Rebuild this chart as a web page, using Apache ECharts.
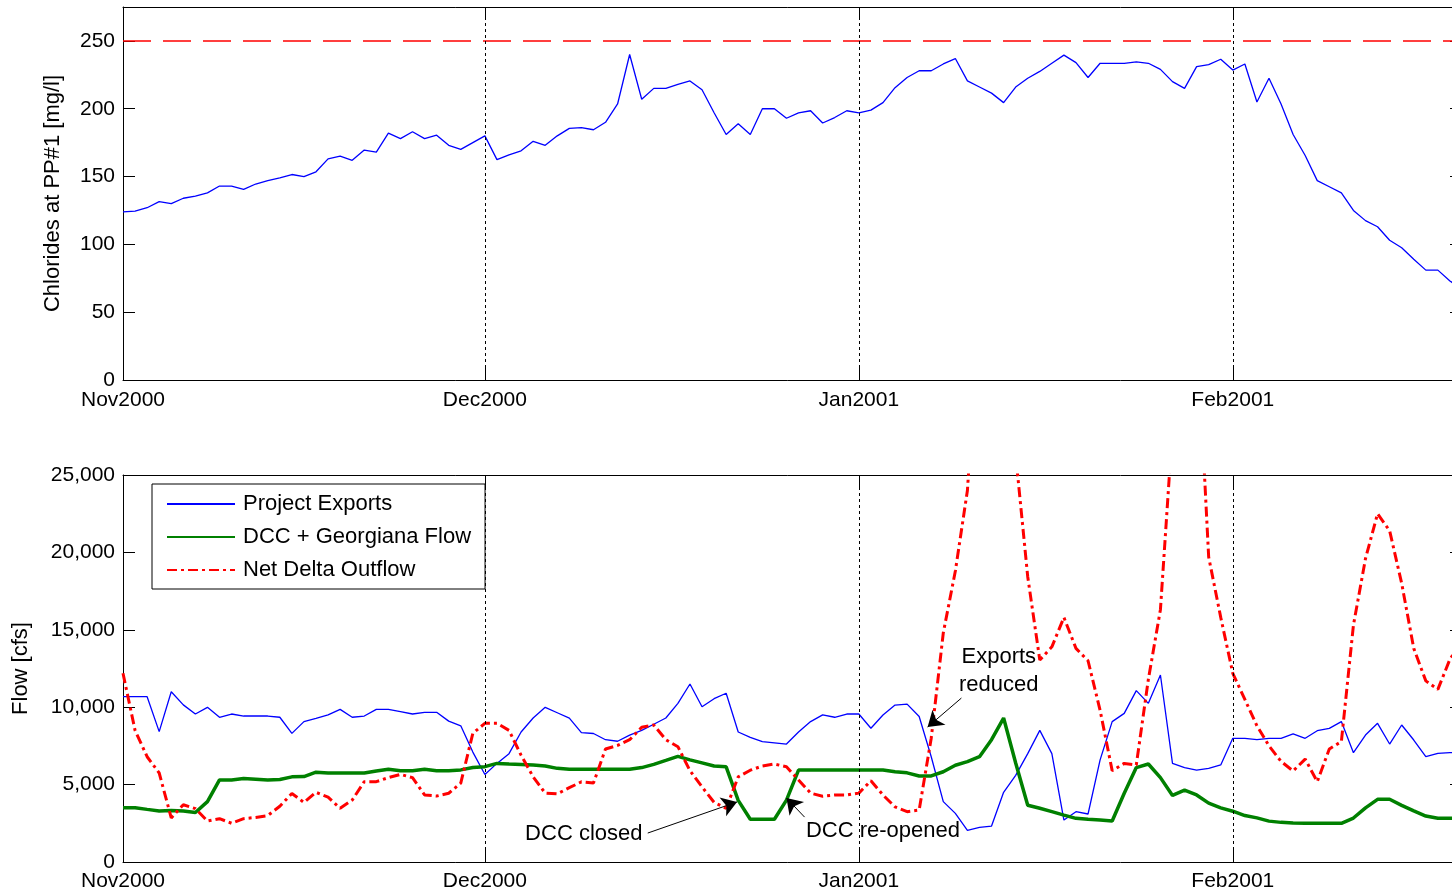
<!DOCTYPE html>
<html>
<head>
<meta charset="utf-8">
<script src="https://cdn.jsdelivr.net/npm/echarts@6/dist/echarts.min.js"></script>
<style>
html,body{margin:0;padding:0;background:#fff;overflow:hidden;}
#chart{width:1452px;height:893px;}
</style>
</head>
<body>
<div id="chart"></div>
<script>
// ---- Data (daily, day 0 = 1 Nov 2000) ----
const monthTickDays = [0, 30, 61, 92];
const monthLabels = ['Nov2000', 'Dec2000', 'Jan2001', 'Feb2001'];
const chlorideStandard = 250;

const chlorides = [
  124, 124.5, 127, 131.5, 130, 134, 135.5, 138, 143, 143,
  140.5, 144.5, 147, 149, 151.5, 150, 153.5, 163, 165, 162,
  169.5, 168, 182, 178, 183, 178, 180.5, 173, 170, 175,
  180, 162.5, 166, 169, 176, 173, 180, 185.5, 186, 184.5,
  190, 203.5, 240, 207, 215, 215, 218, 220.5, 214, 197,
  181, 189, 181, 200, 200, 193, 197, 198.5, 189.5, 193.5,
  198.5, 197, 199, 204.5, 215.5, 223, 228, 228, 233, 237,
  220.5, 216, 211.5, 204.5, 216, 222.5, 227.5, 233.5, 239.5, 234,
  223, 233.5, 233.5, 233.5, 234.5, 233.5, 229, 220, 215, 231,
  232.5, 236.5, 228.5, 233, 205, 222.5, 203.5, 181, 165.5, 147,
  142.5, 138, 125, 117.5, 113, 103, 97.5, 89, 81, 81, 73, 67
];

const projectExports = [
  10680, 10680, 10680, 8420, 11000, 10150, 9560, 9990, 9350, 9560,
  9430, 9430, 9430, 9350, 8310, 9070, 9280, 9500, 9860, 9350,
  9430, 9860, 9860, 9710, 9560, 9670, 9670, 9100, 8800, 7100,
  5650, 6370, 7000, 8400, 9300, 9990, 9640, 9290, 8355, 8300,
  7900, 7800, 8200, 8500, 8900, 9300, 10250, 11500, 10030, 10550,
  10900, 8400, 8050, 7770, 7700, 7620, 8400, 9070, 9500, 9350,
  9560, 9560, 8640, 9500, 10140, 10200, 9400, 6800, 3900, 3140,
  2050, 2240, 2320, 4500, 5600, 7000, 8500, 7000, 2710, 3250,
  3100, 6600, 9070, 9600, 11070, 10250, 12080, 6370, 6100, 5940,
  6050, 6270, 7990, 7990, 7900, 7990, 7990, 8270, 7990, 8480,
  8630, 9070, 7060, 8200, 8960, 7620, 8850, 7880, 6800, 7020, 7060, 7100
];

const dccGeorgianaFlow = [
  3510, 3510, 3400, 3300, 3330, 3300, 3200, 3900, 5300, 5300,
  5400, 5350, 5300, 5330, 5500, 5520, 5800, 5750, 5750, 5750,
  5750, 5880, 5990, 5900, 5900, 5990, 5900, 5900, 5950, 6100,
  6160, 6370, 6330, 6300, 6260, 6200, 6050, 5990, 5990, 5990,
  5990, 5990, 5990, 6100, 6310, 6560, 6820, 6600, 6400, 6200,
  6150, 3980, 2760, 2760, 2760, 4000, 5940, 5940, 5940, 5940,
  5940, 5940, 5940, 5940, 5830, 5760, 5560, 5560, 5830, 6250,
  6480, 6800, 7900, 9300, 6400, 3670, 3470, 3250, 3030, 2820,
  2760, 2710, 2650, 4440, 6100, 6330, 5450, 4300, 4640, 4330,
  3800, 3500, 3280, 3000, 2850, 2640, 2560, 2520, 2500, 2500,
  2500, 2500, 2840, 3500, 4050, 4050, 3660, 3300, 2970, 2830, 2820, 2820
];

const netDeltaOutflow = [
  12190, 8500, 6800, 5750, 2850, 3700, 3450, 2650, 2800, 2500,
  2800, 2880, 3000, 3600, 4430, 3850, 4500, 4190, 3470, 4000,
  5190, 5190, 5450, 5660, 5450, 4330, 4260, 4440, 5100, 8310,
  8960, 8960, 8500, 6900, 5500, 4450, 4400, 4800, 5180, 5100,
  7300, 7530, 7900, 8700, 8850, 7900, 7450, 5900, 4850, 3850,
  3470, 5500, 5930, 6200, 6330, 6150, 5300, 4450, 4250, 4330,
  4330, 4450, 5250, 4330, 3560, 3250, 3360, 8000, 14800, 18800,
  24000, 36000, 38000, 34000, 26300, 18430, 13050, 13900, 15800, 13800,
  13000, 9800, 5900, 6370, 6270, 11800, 16300, 28000, 33000, 35000,
  19700, 15800, 12190, 10500, 8800, 7500, 6500, 5880, 6650, 5190,
  7300, 7780, 15300, 19600, 22500, 21400, 18000, 13800, 11700, 11150, 13100, 14200
];

// annotation texts: [label, day, flow]
const annotationTexts = [
  ['DCC closed', 38.2, 1810],
  ['DCC re-opened', 63.0, 2000],
  ['Exports\nreduced', 72.6, 12370]
];
// annotation arrows: [fromDay, fromFlow, toDay, toFlow]
const annotationArrows = [
  [43.5, 1870, 50.9, 3880],
  [56.5, 2900, 55.0, 4130],
  [69.5, 10590, 66.7, 8720]
];

const X_MAX = 111;
const FONT = "'Liberation Sans', Arial, Helvetica, sans-serif";
const toPairs = arr => arr.map((v, i) => [i, v]);

const axisLineStyle = { color: '#000', width: 1 };

function xAxisDef(gridIndex, position, showLabel, margin) {
  return {
    type: 'value', gridIndex, position, min: 0, max: X_MAX,
    axisLine: { show: true, onZero: false, lineStyle: axisLineStyle },
    axisTick: { show: true, inside: true, length: 12, customValues: monthTickDays, lineStyle: axisLineStyle },
    axisLabel: {
      show: showLabel, customValues: monthTickDays, margin: margin || 8,
      fontSize: 21, color: '#000', fontFamily: FONT,
      formatter: v => monthLabels[monthTickDays.indexOf(Math.round(v))]
    },
    splitLine: { show: false }
  };
}
function yAxisDef(gridIndex, position, max, interval, showLabel, name, nameGap, fmt) {
  return {
    type: 'value', gridIndex, position, min: 0, max, interval,
    axisLine: { show: true, onZero: false, lineStyle: axisLineStyle },
    axisTick: { show: true, inside: true, length: 12, lineStyle: axisLineStyle },
    axisLabel: { show: showLabel, showMaxLabel: max % interval === 0, margin: 8, fontSize: 21, color: '#000', fontFamily: FONT, formatter: fmt },
    splitLine: { show: false },
    name: name || '', nameLocation: 'middle', nameGap: nameGap || 0, nameRotate: 90,
    nameTextStyle: { fontSize: 22, color: '#000', fontFamily: FONT }
  };
}

const monthLines = {
  silent: true, symbol: ['none', 'none'], animation: false,
  label: { show: false },
  lineStyle: { color: '#000', type: [3, 3], width: 1 },
  emphasis: { disabled: true },
  data: monthTickDays.slice(1).map(d => ({ xAxis: d }))
};

const option = {
  animation: false,
  backgroundColor: '#fff',
  textStyle: { fontFamily: FONT },
  grid: [
    { left: 123, width: 1339, top: 7, height: 373, outerBoundsMode: 'none', containLabel: false },
    { left: 123, width: 1339, top: 475, height: 387, outerBoundsMode: 'none', containLabel: false }
  ],
  xAxis: [
    xAxisDef(0, 'bottom', true, 10),
    xAxisDef(0, 'top', false),
    xAxisDef(1, 'bottom', true, 9),
    xAxisDef(1, 'top', false)
  ],
  yAxis: [
    yAxisDef(0, 'left', 275, 50, true, 'Chlorides at PP#1 [mg/l]', 59, v => String(v)),
    yAxisDef(0, 'right', 275, 50, false),
    yAxisDef(1, 'left', 25000, 5000, true, 'Flow [cfs]', 91, v => v.toLocaleString('en-US')),
    yAxisDef(1, 'right', 25000, 5000, false)
  ],
  legend: {
    data: ['Project Exports', 'DCC + Georgiana Flow', 'Net Delta Outflow'],
    orient: 'vertical', left: 152, top: 484,
    itemWidth: 68, itemHeight: 14, itemGap: 9,
    padding: [8, 14, 7, 14],
    borderColor: '#000', borderWidth: 1, borderRadius: 0, backgroundColor: '#fff',
    selectedMode: false,
    itemStyle: { opacity: 0 },
    textStyle: { fontSize: 22, color: '#000', lineHeight: 24, fontFamily: FONT, padding: [0, 0, 0, 3] }
  },
  series: [
    {
      name: 'Chlorides', type: 'line', xAxisIndex: 0, yAxisIndex: 0,
      data: toPairs(chlorides), symbol: 'none', silent: true,
      lineStyle: { color: '#0000ff', width: 1.3 }, itemStyle: { color: '#0000ff' },
      markLine: monthLines
    },
    {
      name: 'Standard', type: 'line', xAxisIndex: 0, yAxisIndex: 0,
      data: [[0, chlorideStandard], [X_MAX, chlorideStandard]], symbol: 'none', silent: true,
      lineStyle: { color: '#ff0000', width: 1.5, type: [28, 12] }, itemStyle: { color: '#ff0000' }
    },
    {
      name: 'Project Exports', type: 'line', xAxisIndex: 2, yAxisIndex: 2,
      data: toPairs(projectExports), symbol: 'none', silent: true,
      lineStyle: { color: '#0000ff', width: 1.3 }, itemStyle: { color: '#0000ff' },
      markLine: monthLines
    },
    {
      name: 'DCC + Georgiana Flow', type: 'line', xAxisIndex: 2, yAxisIndex: 2,
      data: toPairs(dccGeorgianaFlow), symbol: 'none', silent: true,
      lineStyle: { color: '#008000', width: 3.5 }, itemStyle: { color: '#008000' },
      markLine: {
        silent: true, animation: false, symbol: ['none', 'arrow'], symbolSize: 15,
        label: { show: false }, emphasis: { disabled: true },
        itemStyle: { color: '#000' },
        lineStyle: { color: '#000', type: 'solid', width: 1 },
        data: annotationArrows.map(a => [{ coord: [a[0], a[1]] }, { coord: [a[2], a[3]] }])
      }
    },
    {
      name: 'Net Delta Outflow', type: 'line', xAxisIndex: 2, yAxisIndex: 2,
      data: toPairs(netDeltaOutflow), symbol: 'none', silent: true,
      lineStyle: { color: '#ff0000', width: 3, type: [10, 4, 3, 4] }, itemStyle: { color: '#ff0000' },
      markPoint: {
        silent: true, animation: false, symbol: 'circle', symbolSize: 1,
        itemStyle: { color: 'rgba(0,0,0,0)' },
        label: { show: true, position: 'inside', color: '#000', fontSize: 22, lineHeight: 28, fontFamily: FONT, formatter: p => p.name },
        data: annotationTexts.map(t => ({ name: t[0], coord: [t[1], t[2]] }))
      }
    }
  ]
};

const chart = echarts.init(document.getElementById('chart'), null, { renderer: 'canvas' });
chart.setOption(option);
</script>
</body>
</html>
